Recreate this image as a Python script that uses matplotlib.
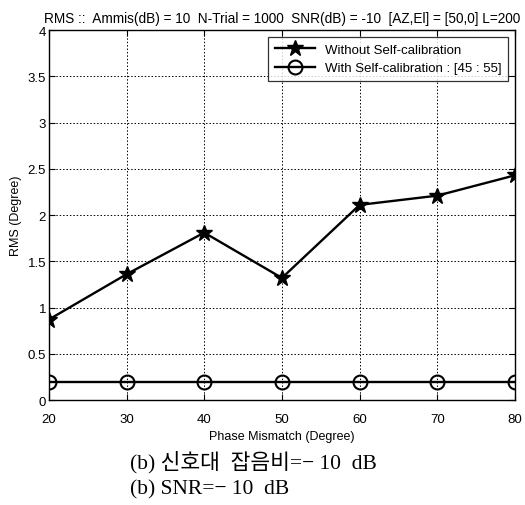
import matplotlib
matplotlib.use("Agg")
import matplotlib.pyplot as plt

# Phase mismatch (degree) and RMS error (degree)
phase = [20, 30, 40, 50, 60, 70, 80]
rms_without = [0.87, 1.36, 1.81, 1.32, 2.11, 2.21, 2.43]
rms_with = [0.2, 0.2, 0.2, 0.2, 0.2, 0.2, 0.2]

labels = ["Without Self-calibration", "With Self-calibration : [45 : 55]"]
title = "RMS ::  Ammis(dB) = 10  N-Trial = 1000  SNR(dB) = -10  [AZ,El] = [50,0] L=200"
caption_kr = "(b) 신호대  잡음비=\u2212 10  dB"
caption_en = "(b) SNR=\u2212 10  dB"

plt.rcParams["font.family"] = ["Liberation Sans", "DejaVu Sans"]

fig = plt.figure(figsize=(5.25, 5.06), dpi=100)
ax = fig.add_axes([0.093, 0.2075, 0.888, 0.731])

ax.plot(phase, rms_without, color="black", lw=1.7, marker="*", ms=12,
        mfc="black", mec="black", mew=1.0, label=labels[0])
ax.plot(phase, rms_with, color="black", lw=1.7, marker="o", ms=10,
        mfc="none", mec="black", mew=1.5, label=labels[1])

ax.set_xlim(20, 80)
ax.set_ylim(0, 4)
ax.set_xticks(phase)
ax.set_yticks([0, 0.5, 1, 1.5, 2, 2.5, 3, 3.5, 4])
ax.set_yticklabels(["0", "0.5", "1", "1.5", "2", "2.5", "3", "3.5", "4"])
ax.tick_params(direction="in", top=True, right=True, labelsize=9.5,
               length=4, width=0.8)
ax.tick_params(axis="x", pad=9)
ax.tick_params(axis="y", pad=2)
ax.grid(True, color="black", linestyle=(0, (1.5, 2)), linewidth=0.7)
for s in ax.spines.values():
    s.set_linewidth(1.0)

ax.set_xlabel("Phase Mismatch (Degree)", fontsize=9, labelpad=4)
ax.set_ylabel("RMS (Degree)", fontsize=9, labelpad=4)
ax.set_title(title, fontsize=9.8, pad=6)

leg = ax.legend(loc="upper right", fontsize=9.5, frameon=True, fancybox=False,
                edgecolor="black", borderaxespad=0.5, handlelength=3,
                borderpad=0.5)
leg.get_frame().set_linewidth(0.9)

serif = ["Liberation Serif", "Noto Sans CJK KR"]
fig.text(0.248, 0.087, caption_kr, fontsize=15.5, family=serif, va="center")
fig.text(0.248, 0.032, caption_en, fontsize=15.5, family=serif, va="center")

fig.savefig("out.png", dpi=100)
